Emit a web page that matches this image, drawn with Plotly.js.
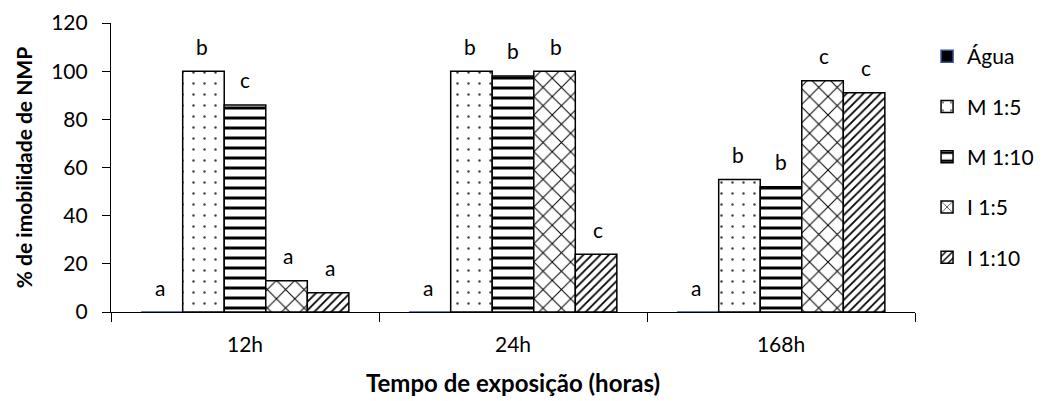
<!DOCTYPE html>
<html>
<head>
<meta charset="utf-8">
<script src="https://cdn.plot.ly/plotly-3.0.1.min.js"></script>
<style>
  html, body { margin: 0; padding: 0; background: #fff; }
  #chart { width: 1051px; height: 401px; }
</style>
</head>
<body>
<div id="chart"></div>
<script>
// exposure times
const times = ["12h", "24h", "168h"];

// % immobility per treatment
const agua = [0, 0, 0];
const m15 = [100, 100, 55];
const m110 = [86, 98, 52];
const i15 = [13, 100, 96];
const i110 = [8, 24, 91];

// significance letters
const aguaLetters = ["a", "a", "a"];
const m15Letters = ["b", "b", "b"];
const m110Letters = ["c", "b", "b"];
const i15Letters = ["a", "b", "c"];
const i110Letters = ["a", "c", "c"];

const font = "Lato, 'Open Sans', sans-serif";
const W = 1051, H = 401;
const margin = { l: 111, r: 117, t: 23, b: 89 };
const bargap = 0.225;

function makeTrace(name, values, pattern, lineColor) {
    return {
        type: "bar",
        name: name,
        x: times,
        y: values,
        legendgroup: name,
        marker: {
            color: pattern ? "#fff" : "#000",
            line: { color: lineColor || "#000", width: 1.5 },
            pattern: pattern || {}
        }
    };
}

const data = [
    makeTrace("Água", agua, null, "#2f5597"),
    makeTrace("M 1:5", m15,
        { shape: ".", fgcolor: "#444", bgcolor: "#fff", size: 11, solidity: 0.04 }),
    makeTrace("M 1:10", m110,
        { shape: "-", fgcolor: "#000", bgcolor: "#fff", size: 10, solidity: 0.3 }),
    makeTrace("I 1:5", i15,
        { shape: "x", fgcolor: "#000", bgcolor: "#fff", size: 13, solidity: 0.15 }),
    makeTrace("I 1:10", i110,
        { shape: "/", fgcolor: "#000", bgcolor: "#fff", size: 6, solidity: 0.3 })
];

// letters above each bar, shifted to the bar's slot inside the group
const series = [agua, m15, m110, i15, i110];
const letters = [aguaLetters, m15Letters, m110Letters, i15Letters, i110Letters];
const catW = (W - margin.l - margin.r) / times.length;
const barW = catW * (1 - bargap) / series.length;
const annotations = [];
series.forEach((vals, i) => {
    vals.forEach((v, j) => {
        annotations.push({
            x: times[j], y: v, xref: "x", yref: "y",
            text: letters[i][j],
            showarrow: false,
            xshift: (i - (series.length - 1) / 2) * barW,
            yshift: 25,
            font: { family: font, size: 21, color: "#000" }
        });
    });
});

const layout = {
    width: W,
    height: H,
    margin: margin,
    paper_bgcolor: "#fff",
    plot_bgcolor: "#fff",
    font: { family: font, size: 20, color: "#000" },
    barmode: "group",
    bargap: bargap,
    bargroupgap: 0,
    showlegend: true,
    annotations: annotations,
    legend: {
        x: 1.015, xanchor: "left",
        y: 0.955, yanchor: "top",
        font: { family: font, size: 21 },
        tracegroupgap: 20,
        traceorder: "grouped",
        itemwidth: 30
    },
    xaxis: {
        type: "category",
        showline: true,
        linecolor: "#000",
        linewidth: 1.2,
        ticks: "outside",
        tickson: "boundaries",
        ticklen: 9,
        tickcolor: "#000",
        showgrid: false,
        ticklabelstandoff: 14,
        tickfont: { family: font, size: 21 },
        title: {
            text: "Tempo de exposição (horas)",
            font: { family: font, size: 24, weight: "bold" },
            standoff: 19
        }
    },
    yaxis: {
        range: [0, 120],
        dtick: 20,
        showline: true,
        linecolor: "#000",
        linewidth: 1.2,
        ticks: "outside",
        ticklen: 8,
        tickcolor: "#000",
        showgrid: false,
        zeroline: false,
        ticklabelstandoff: 10,
        tickfont: { family: font, size: 21 },
        title: {
            text: "% de imobilidade de NMP",
            font: { family: font, size: 21, weight: "bold" },
            standoff: 12
        }
    }
};

Plotly.newPlot("chart", data, layout, { displayModeBar: false });
</script>
</body>
</html>
